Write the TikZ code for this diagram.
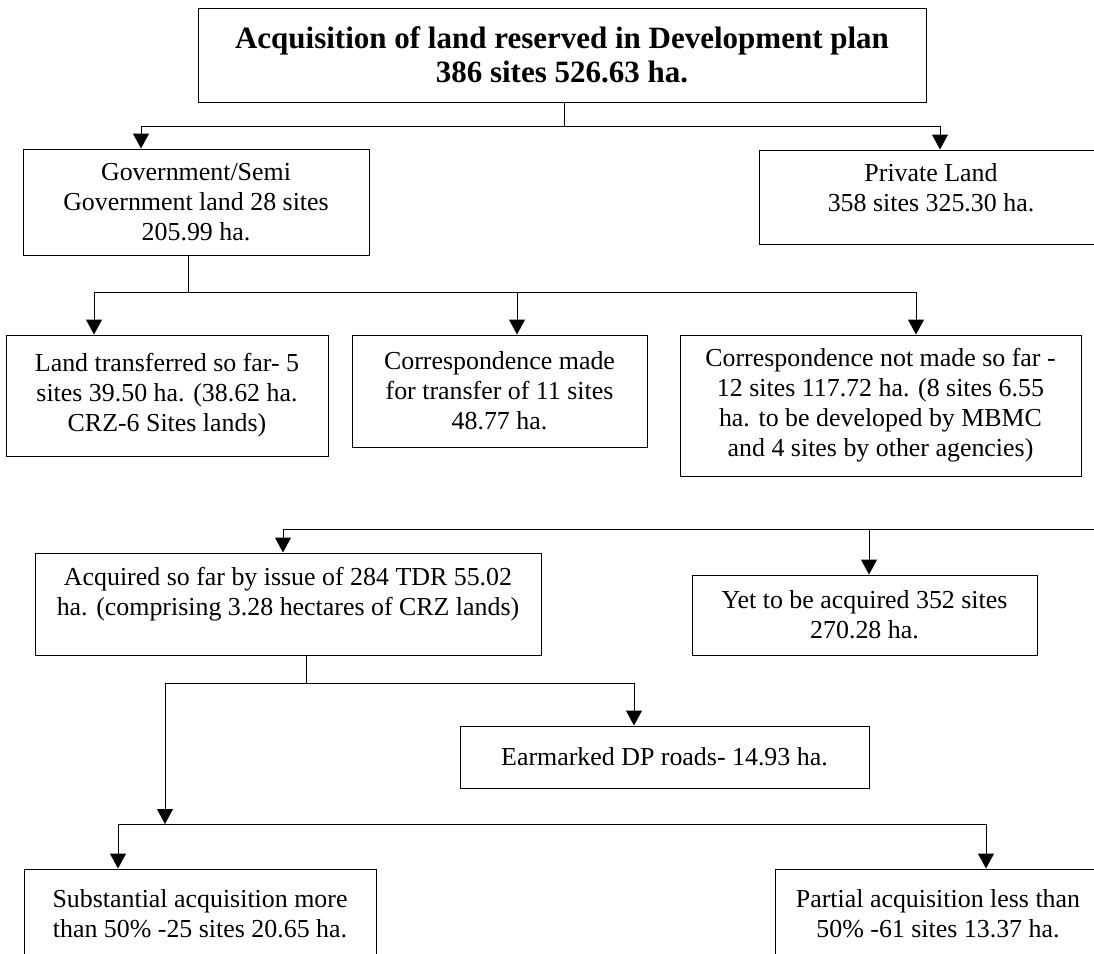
\documentclass[tikz,border=0pt]{standalone}
\usepackage{fontspec}
\setmainfont{Liberation Serif}
\usetikzlibrary{arrows.meta}

\begin{document}
\begin{tikzpicture}[x=1pt, y=-1pt,
    box/.style={draw, line width=1pt, align=center, inner sep=0pt,
      font=\fontsize{25.9}{30}\selectfont},
    link/.style={line width=1pt},
    arr/.style={line width=1pt, -{Triangle[length=15pt, width=16pt]}}]
      \useasboundingbox (0,0) rectangle (1094,953);
      \clip (0,0) rectangle (1094,953);
      % Total
      \node[box, minimum width=728pt, minimum height=94pt,
        font=\fontsize{31}{34}\selectfont\bfseries] (total) at (562,55)
        {Acquisition of land reserved in Development plan\\386 sites 526.63 ha.};
      % Government land
      \node[box, minimum width=346pt, minimum height=106pt] (gov) at (196,202)
        {Government/Semi\\Government land 28 sites\\205.99 ha.};
      \node[box, minimum width=322pt, minimum height=121pt] (transf) at (167,395.5)
        {Land transferred so far- 5\\sites 39.50 ha. (38.62 ha.\\CRZ-6 Sites lands)};
      \node[box, minimum width=295pt, minimum height=112pt] (corr) at (499.5,391)
        {Correspondence made\\for transfer of 11 sites\\48.77 ha.};
      \node[box, minimum width=401pt, minimum height=141pt] (nocorr) at (880.5,405.5)
        {Correspondence not made so far -\\12 sites 117.72 ha. (8 sites 6.55\\ha. to be developed by MBMC\\and 4 sites by other agencies)};
      % Private land
      \node[box, minimum width=344pt, minimum height=94pt, text depth=18pt] (priv) at (931,197)
        {Private Land\\358 sites 325.30 ha.};
      \node[box, minimum width=506pt, minimum height=102pt, text depth=25pt] (acq) at (288,604)
        {Acquired so far by issue of 284 TDR 55.02\\ha. (comprising 3.28 hectares of CRZ lands)};
      \node[box, minimum width=345pt, minimum height=80pt] (yet) at (864.5,615)
        {Yet to be acquired 352 sites\\270.28 ha.};
      \node[box, minimum width=409pt, minimum height=62pt] (roads) at (664.5,757)
        {Earmarked DP roads- 14.93 ha.};
      \node[box, minimum width=352pt, minimum height=89pt] (subst) at (200,913.5)
        {Substantial acquisition more\\than 50\% -25 sites 20.65 ha.};
      \node[box, minimum width=326pt, minimum height=89pt] (part) at (938,913.5)
        {Partial acquisition less than\\50\% -61 sites 13.37 ha.};

      % Total -> government, private
      \coordinate (j1) at (564,126);
      \draw[link] (total.south -| j1) -- (j1);
      \draw[arr] (j1) -| (141,0 |- gov.north);
      \draw[arr] (j1) -| (940,0 |- priv.north);
      % Government -> transferred, correspondence
      \coordinate (j2) at (517,292);
      \draw[arr] (188,0 |- gov.south) |- (j2) -- (517,0 |- corr.north);
      \draw[arr] (j2) -| (94,0 |- transf.north);
      \draw[arr] (j2) -| (916,0 |- nocorr.north);
      % Private -> acquired, yet to be acquired
      \coordinate (j3) at (869,529);
      \draw[arr] (priv.east) -- ++(14,0) |- (j3) -- (869,0 |- yet.north);
      \draw[arr] (j3) -| (283,0 |- acq.north);
      % Acquired -> roads, substantial, partial
      \coordinate (j4) at (306,683);
      \coordinate (bus) at (165,824);
      \draw[link] (306,0 |- acq.south) -- (j4);
      \draw[arr] (j4) -| (634,0 |- roads.north);
      \draw[arr] (j4) -| (bus);
      \draw[arr] (bus) -| (118,0 |- subst.north);
      \draw[arr] (bus) -| (986,0 |- part.north);

    \end{tikzpicture}
\end{document}
